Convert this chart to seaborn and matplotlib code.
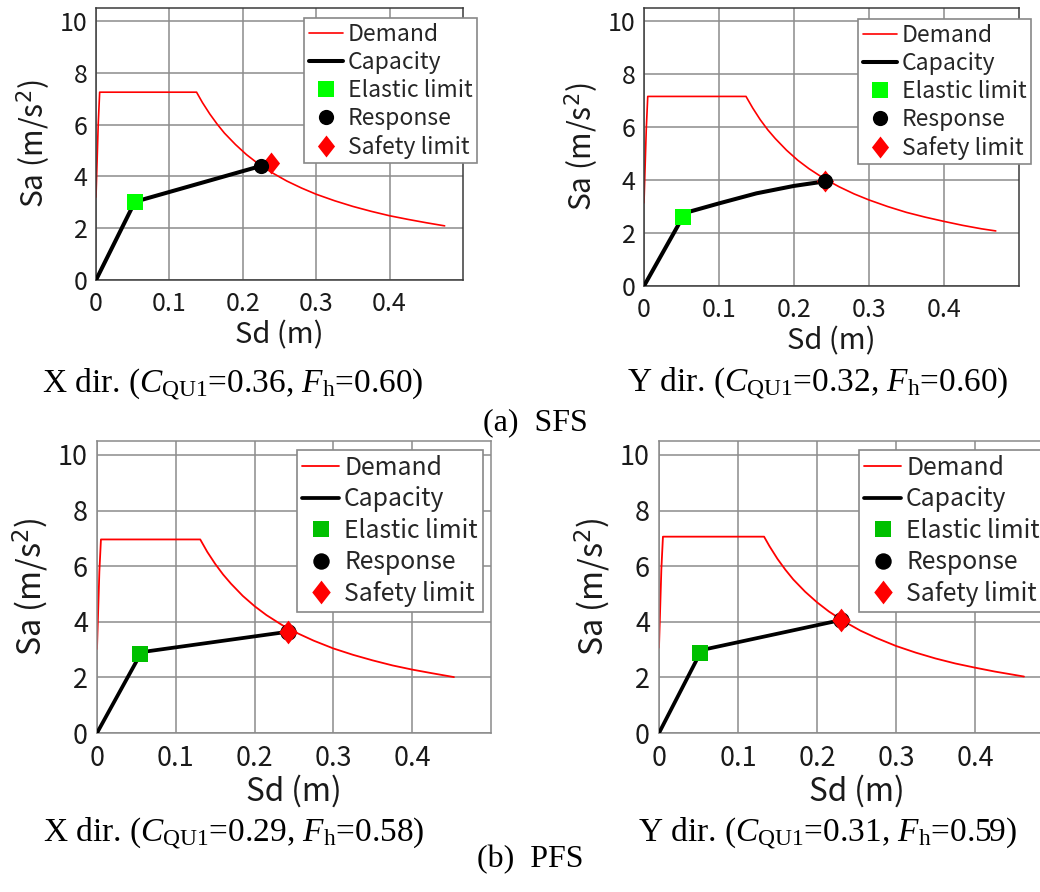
import numpy as np
import matplotlib
matplotlib.use("Agg")
import matplotlib.pyplot as plt
import seaborn as sns

sns.set_theme(style="white")
plt.rcParams["font.family"] = ["Noto Sans CJK JP", "DejaVu Sans"]
plt.rcParams["mathtext.fontset"] = "custom"
plt.rcParams["mathtext.rm"] = "Liberation Serif"
plt.rcParams["mathtext.it"] = "Liberation Serif:italic"

# ---------------- data: (a) SFS, X direction ----------------
sfs_x_demand_sd = [0, 0.003, 0.005, 0.137, 0.145, 0.155, 0.165, 0.175, 0.19, 0.205, 0.22,
                   0.24, 0.26, 0.28, 0.30, 0.325, 0.35, 0.375, 0.40, 0.425, 0.45, 0.475]
sfs_x_demand_sa = [3.20, 6.00, 7.25, 7.25, 6.85, 6.41, 6.02, 5.67, 5.23, 4.84, 4.51,
                   4.14, 3.82, 3.55, 3.31, 3.06, 2.84, 2.65, 2.48, 2.34, 2.21, 2.09]
sfs_x_capacity_sd = [0, 0.053, 0.2245]
sfs_x_capacity_sa = [0, 3.02, 4.40]
sfs_x_elastic = (0.053, 3.02)
sfs_x_response = (0.2245, 4.40)
sfs_x_safety = (0.238, 4.50)

# ---------------- data: (a) SFS, Y direction ----------------
sfs_y_demand_sd = [0, 0.003, 0.005, 0.136, 0.145, 0.155, 0.165, 0.175, 0.19, 0.205, 0.22,
                   0.24, 0.26, 0.28, 0.30, 0.325, 0.35, 0.375, 0.40, 0.425, 0.45, 0.469]
sfs_y_demand_sa = [3.14, 5.90, 7.16, 7.16, 6.72, 6.28, 5.90, 5.57, 5.13, 4.75, 4.43,
                   4.06, 3.75, 3.48, 3.25, 3.00, 2.78, 2.60, 2.44, 2.29, 2.16, 2.08]
sfs_y_capacity_sd = [0, 0.052, 0.061, 0.10, 0.15, 0.20, 0.241]
sfs_y_capacity_sa = [0, 2.62, 2.81, 3.12, 3.50, 3.78, 3.95]
sfs_y_elastic = (0.052, 2.62)
sfs_y_response = (0.241, 3.95)
sfs_y_safety = (0.241, 3.95)

# ---------------- data: (b) PFS, X direction ----------------
pfs_x_demand_sd = [0, 0.003, 0.005, 0.131, 0.14, 0.15, 0.16, 0.17, 0.185, 0.20, 0.215,
                   0.235, 0.255, 0.275, 0.30, 0.325, 0.35, 0.375, 0.40, 0.425, 0.453]
pfs_x_demand_sa = [3.02, 5.80, 6.96, 6.96, 6.51, 6.08, 5.70, 5.37, 4.93, 4.56, 4.24,
                   3.88, 3.58, 3.32, 3.04, 2.81, 2.61, 2.43, 2.28, 2.15, 2.01]
pfs_x_capacity_sd = [0, 0.055, 0.062, 0.242]
pfs_x_capacity_sa = [0, 2.83, 2.93, 3.64]
pfs_x_elastic = (0.055, 2.83)
pfs_x_response = (0.242, 3.64)
pfs_x_safety = (0.242, 3.64)

# ---------------- data: (b) PFS, Y direction ----------------
pfs_y_demand_sd = [0, 0.003, 0.005, 0.133, 0.14, 0.15, 0.16, 0.17, 0.185, 0.20, 0.215,
                   0.235, 0.255, 0.275, 0.30, 0.325, 0.35, 0.375, 0.40, 0.425, 0.462]
pfs_y_demand_sa = [3.07, 5.90, 7.06, 7.06, 6.71, 6.26, 5.87, 5.52, 5.08, 4.70, 4.37,
                   4.00, 3.68, 3.42, 3.13, 2.89, 2.68, 2.50, 2.35, 2.21, 2.03]
pfs_y_capacity_sd = [0, 0.052, 0.060, 0.230]
pfs_y_capacity_sa = [0, 2.87, 3.02, 4.06]
pfs_y_elastic = (0.052, 2.87)
pfs_y_response = (0.230, 4.06)
pfs_y_safety = (0.230, 4.06)

captions = [
    r"X dir. ($C_{\mathrm{QU1}}$=0.36, $F_{\mathrm{h}}$=0.60)",
    r"Y dir. ($C_{\mathrm{QU1}}$=0.32, $F_{\mathrm{h}}$=0.60)",
    r"X dir. ($C_{\mathrm{QU1}}$=0.29, $F_{\mathrm{h}}$=0.58)",
    r"Y dir. ($C_{\mathrm{QU1}}$=0.31, $F_{\mathrm{h}}$=0.59)",
]
group_titles = ["(a)  SFS", "(b)  PFS"]
x_ticks = [0, 0.1, 0.2, 0.3, 0.4]
x_tick_labels = ["0", "0.1", "0.2", "0.3", "0.4"]
y_ticks = [0, 2, 4, 6, 8, 10]

panel_data = [
    (sfs_x_demand_sd, sfs_x_demand_sa, sfs_x_capacity_sd, sfs_x_capacity_sa,
     sfs_x_elastic, sfs_x_response, sfs_x_safety),
    (sfs_y_demand_sd, sfs_y_demand_sa, sfs_y_capacity_sd, sfs_y_capacity_sa,
     sfs_y_elastic, sfs_y_response, sfs_y_safety),
    (pfs_x_demand_sd, pfs_x_demand_sa, pfs_x_capacity_sd, pfs_x_capacity_sa,
     pfs_x_elastic, pfs_x_response, pfs_x_safety),
    (pfs_y_demand_sd, pfs_y_demand_sa, pfs_y_capacity_sd, pfs_y_capacity_sa,
     pfs_y_elastic, pfs_y_response, pfs_y_safety),
]

# ---------------- layout (pixels in a 1040 x 892 canvas) ----------------
W, H = 1040, 892
# axes box: left, top, right, bottom
boxes = [(96, 8, 463, 280), (644, 8, 1019, 286), (97, 441, 491, 733), (659, 441, 1054, 733)]
legend_corner = [(304, 18), (858, 19), (297, 450), (859, 450)]
caption_pos = [(233, 393), (818, 392), (234, 842), (827, 842)]
title_pos = [(535, 430), (530, 867)]
scale = [1.0, 1.0, 1.08, 1.08]  # the lower row is drawn a little larger
green = ["#00ff00", "#00ff00", "#00c000", "#00c000"]
diamond_on_top = [False, False, True, True]
spine_color = ["#3a3a3a", "#3a3a3a", "#8a8a8a", "#8a8a8a"]
cap_lw = [2.9, 2.9, 2.5, 2.5]

# a slightly slender diamond for the safety-limit marker
diamond = np.array([(0, 1), (0.78, 0), (0, -1), (-0.78, 0), (0, 1)])

fig = plt.figure(figsize=(W / 100, H / 100), dpi=100)

for i, (dsd, dsa, csd, csa, el, rs, sf) in enumerate(panel_data):
    k = scale[i]
    l, t, r, b = boxes[i]
    ax = fig.add_axes([l / W, 1 - b / H, (r - l) / W, (b - t) / H])
    ax.set_axisbelow(True)

    sns.lineplot(x=dsd, y=dsa, ax=ax, color="#ff0000", linewidth=1.2 * k,
                 sort=False, estimator=None, label="Demand", zorder=2)
    sns.lineplot(x=csd, y=csa, ax=ax, color="black", linewidth=cap_lw[i] * k,
                 sort=False, estimator=None, label="Capacity", zorder=3)
    sns.scatterplot(x=[el[0]], y=[el[1]], ax=ax, marker="s", s=120 * k * k, color=green[i],
                    linewidth=0, label="Elastic limit", zorder=4)
    z_circle, z_diamond = (5, 6) if diamond_on_top[i] else (6, 5)
    sns.scatterplot(x=[rs[0]], y=[rs[1]], ax=ax, marker="o", s=120 * k * k, color="black",
                    linewidth=0, label="Response", zorder=z_circle)
    sns.scatterplot(x=[sf[0]], y=[sf[1]], ax=ax, marker=diamond, s=250 * k * k,
                    color="#ff0000", linewidth=0, label="Safety limit", zorder=z_diamond)

    ax.set_xlim(0, 0.5)
    ax.set_ylim(0, 10.5)
    ax.set_xticks(x_ticks)
    ax.set_xticklabels(x_tick_labels)
    ax.set_yticks(y_ticks)
    ax.grid(True, color="#8c8c8c", linewidth=1.1)
    ax.tick_params(axis="both", length=0, labelsize=18 * k, colors="#1a1a1a")
    ax.tick_params(axis="x", pad=8 * k)
    ax.tick_params(axis="y", pad=6 * k)
    for sp in ax.spines.values():
        sp.set_color(spine_color[i])
        sp.set_linewidth(1.1)

    ax.set_xlabel("Sd (m)", fontsize=21 * k, labelpad=2, color="#1a1a1a")
    ax.set_ylabel("Sa (m/s$^{2}$)", fontsize=21.5 * k, labelpad=5, color="#1a1a1a",
                  math_fontfamily="dejavusans")

    lx, ly = legend_corner[i]
    leg = ax.legend(loc="upper left", bbox_to_anchor=(lx / W, 1 - ly / H),
                    bbox_transform=fig.transFigure, borderaxespad=0, fontsize=16.5 * k,
                    frameon=True, fancybox=False, edgecolor="#888888", framealpha=1,
                    handlelength=1.5, handletextpad=0.2, borderpad=0.2,
                    labelspacing=0.22, scatteryoffsets=[0.5])
    leg.get_frame().set_linewidth(1.2)

    cx, cy = caption_pos[i]
    fig.text(cx / W, 1 - cy / H, captions[i], fontsize=24, ha="center", va="baseline",
             family="Liberation Serif", color="black")

for (tx, ty), title in zip(title_pos, group_titles):
    fig.text(tx / W, 1 - ty / H, title, fontsize=23, ha="center", va="baseline",
             family="Liberation Serif", color="black")

fig.savefig("out.png", dpi=100, facecolor="white")
